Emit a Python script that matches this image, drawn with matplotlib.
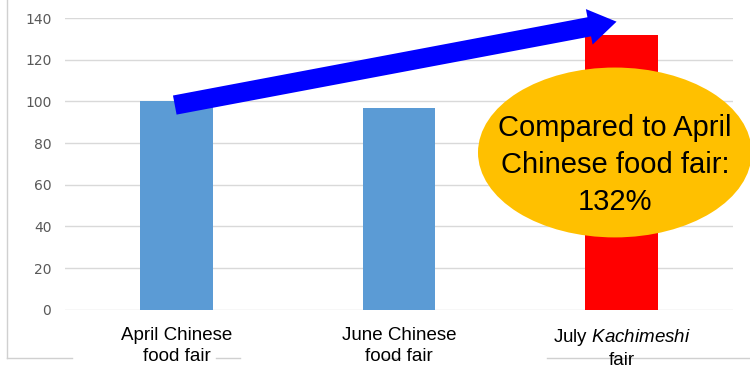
import matplotlib.pyplot as plt
from matplotlib.patches import Ellipse
from matplotlib.lines import Line2D

categories = ["April Chinese\nfood fair", "June Chinese\nfood fair", "July $\\it{Kachimeshi}$\nfair"]
values = [100, 97, 132]
bar_colors = ["#5B9BD5", "#5B9BD5", "#FF0000"]
yticks = [0, 20, 40, 60, 80, 100, 120, 140]
callout = "Compared to April\nChinese food fair:\n132%"

plt.rcParams["font.family"] = ["Liberation Sans", "DejaVu Sans"]
plt.rcParams["mathtext.fontset"] = "custom"
plt.rcParams["mathtext.it"] = "Liberation Sans:italic"
plt.rcParams["mathtext.rm"] = "Liberation Sans"

fig = plt.figure(figsize=(7.5, 3.68), dpi=100)
ax = fig.add_axes([0.087, 0.158, 0.890, 0.793])
ax.patch.set_visible(False)

x = range(len(categories))
ax.bar(x, values, width=0.325, color=bar_colors, zorder=2)

ax.set_xlim(-0.5, 2.5)
ax.set_ylim(0, 140)
ax.set_yticks(yticks)
ax.set_xticks(list(x))
ax.set_xticklabels(categories, fontsize=13.5, color="black", linespacing=1.38)
ax.tick_params(axis="x", length=0, pad=12)
ax.tick_params(axis="y", length=0, pad=10, labelsize=10, labelcolor="#595959")
for lab in ax.get_yticklabels():
    lab.set_family("DejaVu Sans")
ax.grid(axis="y", color="#D9D9D9", linewidth=1, zorder=0)
for s in ax.spines.values():
    s.set_visible(False)

# arrow from April bar to July bar
ax.annotate("", xy=(1.99, 138.5), xytext=(-0.02, 98),
            arrowprops=dict(arrowstyle="simple,head_width=1.3,head_length=1.0,tail_width=0.7",
                            mutation_scale=20, color="#0000FF", lw=0),
            annotation_clip=False, zorder=4)

# callout ellipse
ell = Ellipse((1.97, 75.5), 1.23, 81.5, facecolor="#FFC000", edgecolor="none",
              clip_on=False, zorder=5)
ax.add_patch(ell)
ax.text(1.97, 69.5, callout, ha="center", va="center", fontsize=21,
        linespacing=1.4, zorder=6)

# light outer frame
fc = "#D0D0D0"
fig.add_artist(Line2D([0.009, 0.009], [1.0, 0.027], color=fc, lw=1, zorder=-1))
for x0, x1 in [(0.009, 0.096), (0.288, 0.320), (0.512, 0.533), (0.729, 1.0)]:
    fig.add_artist(Line2D([x0, x1], [0.027, 0.027], color=fc, lw=1, zorder=-1))

fig.savefig("out.png", dpi=100)
